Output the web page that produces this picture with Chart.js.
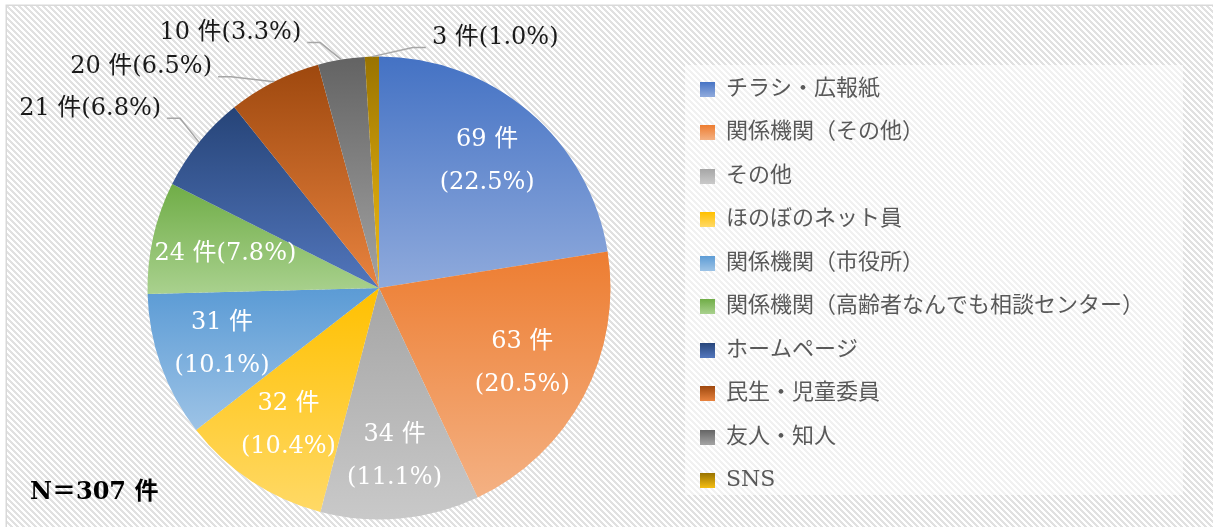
<!DOCTYPE html>
<html>
<head>
<meta charset="utf-8">
<script src="https://cdn.jsdelivr.net/npm/chart.js@4.4.1/dist/chart.umd.min.js"></script>
<style>
  html, body { margin: 0; padding: 0; background: #fff; }
  #wrap { width: 1213px; height: 527px; }
</style>
</head>
<body>
<div id="wrap"><canvas id="pieChart" width="1213" height="527"></canvas></div>
<script>
const categories = ['チラシ・広報紙', '関係機関（その他）', 'その他', 'ほのぼのネット員', '関係機関（市役所）',
  '関係機関（高齢者なんでも相談センター）', 'ホームページ', '民生・児童委員', '友人・知人', 'SNS'];
const counts = [69, 63, 34, 32, 31, 24, 21, 20, 10, 3];
const percents = ['22.5', '20.5', '11.1', '10.4', '10.1', '7.8', '6.8', '6.5', '3.3', '1.0'];
const totalLabel = 'N＝307 件';

// gradient fill of each slice, top -> bottom
const topColors = ['#4472C4', '#ED7D31', '#A5A5A5', '#FFC000', '#5B9BD5', '#70AD47', '#264478', '#9E480E', '#636363', '#997300'];
const bottomColors = ['#8FAADC', '#F4B183', '#C9C9C9', '#FFD966', '#9DC3E6', '#A9D18E', '#5276BC', '#E8833F', '#A3A3A3', '#F5BE12'];

const serif = "'DejaVu Serif', 'Noto Sans CJK JP', serif";

// where each data label goes: two lines inside, one line inside, or outside with a leader line
const labelPlace = [
  {kind: 'in2', r: 0.72}, {kind: 'in2', r: 0.70}, {kind: 'in2', r: 0.73}, {kind: 'in2', r: 0.71}, {kind: 'in2', r: 0.72},
  {kind: 'in1', r: 0.68},
  {kind: 'out', dx: -38, dy: -34},
  {kind: 'out', dx: -62, dy: -15},
  {kind: 'out', dx: -40, dy: -27},
  {kind: 'out', dx: 60, dy: -19}
];

function sliceGradient(c) {
  const i = c.dataIndex;
  const el = c.element;
  if (!el || el.outerRadius === undefined || !isFinite(el.y)) return topColors[i];
  const {x, y, startAngle, endAngle, outerRadius} = el;
  let ymin = y, ymax = y;
  for (let k = 0; k <= 60; k++) {
    const a = startAngle + (endAngle - startAngle) * k / 60;
    const py = y + Math.sin(a) * outerRadius;
    ymin = Math.min(ymin, py);
    ymax = Math.max(ymax, py);
  }
  const g = c.chart.ctx.createLinearGradient(0, ymin, 0, ymax);
  g.addColorStop(0, topColors[i]);
  g.addColorStop(1, bottomColors[i]);
  return g;
}

// little gradient squares for the legend
const swatches = topColors.map((col, i) => {
  const cv = document.createElement('canvas');
  cv.width = 15; cv.height = 15;
  const g = cv.getContext('2d');
  const gr = g.createLinearGradient(0, 0, 0, 15);
  gr.addColorStop(0, col);
  gr.addColorStop(1, bottomColors[i]);
  g.fillStyle = gr;
  g.fillRect(0, 0, 15, 15);
  return cv;
});

// diagonal stripe pattern for the background
function makeStripes() {
  const n = 6;
  const cv = document.createElement('canvas');
  cv.width = n; cv.height = n;
  const g = cv.getContext('2d');
  const img = g.createImageData(n, n);
  for (let yy = 0; yy < n; yy++) {
    for (let xx = 0; xx < n; xx++) {
      const on = ((xx - yy + n * 10) % n) < 3;
      const v = on ? 225 : 255;
      const o = (yy * n + xx) * 4;
      img.data[o] = v; img.data[o + 1] = v; img.data[o + 2] = v; img.data[o + 3] = 255;
    }
  }
  g.putImageData(img, 0, 0);
  return cv;
}
const stripeTile = makeStripes();

const background = {
  id: 'background',
  beforeDraw(chart) {
    const ctx = chart.ctx;
    ctx.save();
    ctx.fillStyle = '#fff';
    ctx.fillRect(0, 0, chart.width, chart.height);
    ctx.fillStyle = ctx.createPattern(stripeTile, 'repeat');
    ctx.fillRect(7, 6, chart.width - 7, chart.height - 6);
    ctx.strokeStyle = '#D9D9D9';
    ctx.lineWidth = 1.5;
    ctx.strokeRect(6.25, 5.25, chart.width + 10, chart.height + 10);
    // legend panel is a lighter patch
    const lg = chart.legend;
    ctx.fillStyle = 'rgba(255,255,255,0.55)';
    ctx.fillRect(lg.left + 6.5, lg.top + 8.5, 498, lg.bottom - lg.top - 33);
    ctx.restore();
  }
};

const sliceLabels = {
  id: 'sliceLabels',
  afterDatasetsDraw(chart) {
    const ctx = chart.ctx;
    const arcs = chart.getDatasetMeta(0).data;
    ctx.save();
    ctx.font = '24px ' + serif;
    ctx.textBaseline = 'middle';
    arcs.forEach((arc, i) => {
      const p = labelPlace[i];
      const mid = (arc.startAngle + arc.endAngle) / 2;
      const head = counts[i] + ' 件';
      const pct = '(' + percents[i] + '%)';
      if (p.kind !== 'out') {
        const r = arc.outerRadius * p.r;
        const x = arc.x + Math.cos(mid) * r;
        const y = arc.y + Math.sin(mid) * r;
        ctx.fillStyle = '#fff';
        ctx.textAlign = 'center';
        if (p.kind === 'in2') {
          ctx.fillText(head, x, y - 21.5);
          ctx.fillText(pct, x, y + 21.5);
        } else {
          ctx.fillText(head + pct, x, y);
        }
      } else {
        const ex = arc.x + Math.cos(mid) * arc.outerRadius;
        const ey = arc.y + Math.sin(mid) * arc.outerRadius;
        const tx = ex + p.dx, ty = ey + p.dy;
        const side = p.dx < 0 ? -1 : 1;
        const endX = tx - side * 6, endY = ty + 10;
        const elbowX = endX - side * 13;
        ctx.strokeStyle = '#A6A6A6';
        ctx.lineWidth = 1.5;
        ctx.beginPath();
        ctx.moveTo(ex, ey);
        ctx.lineTo(elbowX, endY);
        ctx.lineTo(endX, endY);
        ctx.stroke();
        ctx.fillStyle = '#1a1a1a';
        ctx.textAlign = side < 0 ? 'right' : 'left';
        ctx.fillText(head + pct, tx, ty);
      }
    });
    ctx.font = 'bold 24px ' + serif;
    ctx.fillStyle = '#000';
    ctx.textAlign = 'left';
    ctx.fillText(totalLabel, 30, 493);
    ctx.restore();
  }
};

const ctx = document.getElementById('pieChart').getContext('2d');
const pieChart = new Chart(ctx, {
  type: 'pie',
  data: {
    labels: categories,
    datasets: [{
      data: counts,
      backgroundColor: sliceGradient,
      borderWidth: 0
    }]
  },
  options: {
    responsive: false,
    animation: false,
    devicePixelRatio: 1,
    layout: { padding: { left: 79.5, right: 59, top: 56.5, bottom: 7.5 } },
    plugins: {
      tooltip: { enabled: false },
      legend: {
        position: 'right',
        align: 'start',
        labels: {
          boxWidth: 15,
          boxHeight: 15,
          usePointStyle: true,
          padding: 21.5,
          color: '#595959',
          font: { family: serif, size: 22 },
          generateLabels: () => categories.map((name, i) => ({
            text: name,
            fillStyle: topColors[i],
            strokeStyle: 'transparent',
            lineWidth: 0,
            pointStyle: swatches[i],
            fontColor: '#595959',
            hidden: false,
            index: i
          }))
        }
      }
    }
  },
  plugins: [background, sliceLabels]
});
// second pass so the slice gradients can use the arc geometry
pieChart.update();
</script>
</body>
</html>
